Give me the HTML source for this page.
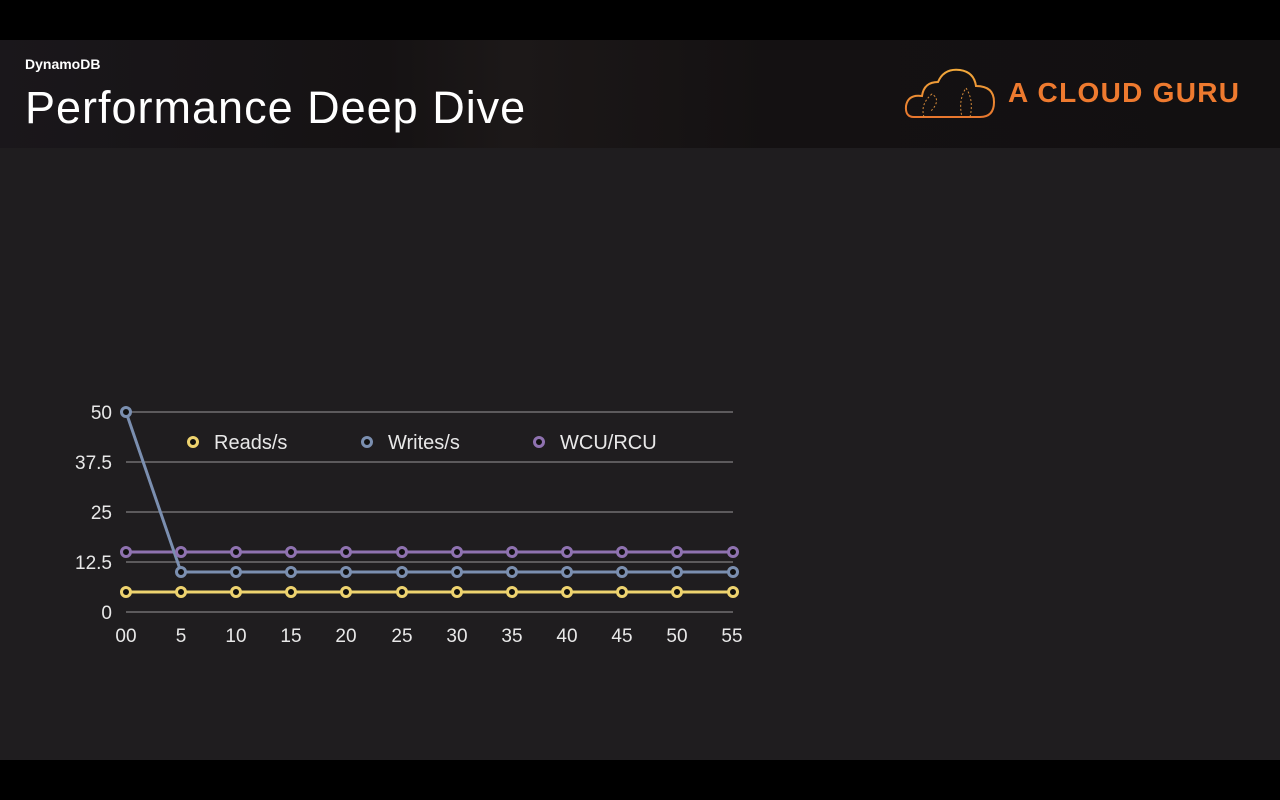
<!DOCTYPE html>
<html><head><style>
body{margin:0;width:1280px;height:800px;background:#000;overflow:hidden;font-family:"Liberation Sans",sans-serif;position:relative}
#hdr{position:absolute;left:0;top:40px;width:1280px;height:108px;background:linear-gradient(90deg,#1a171b 0%,#151213 30%,#1c1818 40%,#141112 60%,#121011 100%)}
#main{position:absolute;left:0;top:148px;width:1280px;height:612px;background:#1f1d1f}
</style></head><body>
<div id="hdr">
<div style="position:absolute;left:25px;top:16px;color:#fff;font-weight:bold;font-size:14px">DynamoDB</div>
<div style="position:absolute;left:25px;top:42px;color:#fff;font-size:45px;letter-spacing:1px">Performance Deep Dive</div>
<svg style="position:absolute;left:900px;top:20px" width="100" height="66">
<defs><linearGradient id="g" x1="0" y1="0" x2="0" y2="1"><stop offset="0" stop-color="#f2a93b"/><stop offset="1" stop-color="#e8772e"/></linearGradient></defs>
<path d="M14 57 Q5 57 6 46 Q8 34 22 36 Q24 22 38 22 Q44 8 60 10 Q74 12 76 26 Q94 26 94 42 Q94 57 80 57 Z" fill="none" stroke="url(#g)" stroke-width="2"/>
<path d="M24 57 Q20 44 32 34 Q42 40 30 52 M70 57 Q74 40 66 28 Q58 40 62 57" fill="none" stroke="#d58a3a" stroke-width="1" stroke-dasharray="2 2"/>
</svg>
<div style="position:absolute;left:1008px;top:37px;color:#ee7a2f;font-weight:bold;font-size:28px;letter-spacing:1.3px">A CLOUD GURU</div>
</div>
<div id="main"></div>
<svg style="position:absolute;left:0;top:0" width="1280" height="800" font-family="Liberation Sans,sans-serif">
<g stroke="#9a989a" stroke-width="1">
<line x1="126" y1="412" x2="733" y2="412"/><line x1="126" y1="462" x2="733" y2="462"/><line x1="126" y1="512" x2="733" y2="512"/><line x1="126" y1="562" x2="733" y2="562"/><line x1="126" y1="612" x2="733" y2="612"/>
</g>
<g fill="#e8e8e8" font-size="19" text-anchor="end">
<text x="112" y="419">50</text><text x="112" y="469">37.5</text><text x="112" y="519">25</text><text x="112" y="569">12.5</text><text x="112" y="619">0</text>
</g>
<g fill="#e8e8e8" font-size="19" text-anchor="middle">
<text x="126" y="642">00</text><text x="181" y="642">5</text><text x="236" y="642">10</text><text x="291" y="642">15</text><text x="346" y="642">20</text><text x="402" y="642">25</text><text x="457" y="642">30</text><text x="512" y="642">35</text><text x="567" y="642">40</text><text x="622" y="642">45</text><text x="677" y="642">50</text><text x="732" y="642">55</text>
</g>
<g stroke-width="3" fill="none">
<polyline stroke="#8f72b0" points="126,552 733,552"/>
<polyline stroke="#7b8fb0" points="126,412 181,572 733,572"/>
<polyline stroke="#eed36f" points="126,592 733,592"/>
</g>
<g stroke-width="3" fill="#111">
<g stroke="#8f72b0"><circle cx="126" cy="552" r="4.5"/><circle cx="181" cy="552" r="4.5"/><circle cx="236" cy="552" r="4.5"/><circle cx="291" cy="552" r="4.5"/><circle cx="346" cy="552" r="4.5"/><circle cx="402" cy="552" r="4.5"/><circle cx="457" cy="552" r="4.5"/><circle cx="512" cy="552" r="4.5"/><circle cx="567" cy="552" r="4.5"/><circle cx="622" cy="552" r="4.5"/><circle cx="677" cy="552" r="4.5"/><circle cx="733" cy="552" r="4.5"/><circle cx="539" cy="442" r="4.5"/></g>
<g stroke="#7b8fb0"><circle cx="126" cy="412" r="4.5"/><circle cx="181" cy="572" r="4.5"/><circle cx="236" cy="572" r="4.5"/><circle cx="291" cy="572" r="4.5"/><circle cx="346" cy="572" r="4.5"/><circle cx="402" cy="572" r="4.5"/><circle cx="457" cy="572" r="4.5"/><circle cx="512" cy="572" r="4.5"/><circle cx="567" cy="572" r="4.5"/><circle cx="622" cy="572" r="4.5"/><circle cx="677" cy="572" r="4.5"/><circle cx="733" cy="572" r="4.5"/><circle cx="367" cy="442" r="4.5"/></g>
<g stroke="#eed36f"><circle cx="126" cy="592" r="4.5"/><circle cx="181" cy="592" r="4.5"/><circle cx="236" cy="592" r="4.5"/><circle cx="291" cy="592" r="4.5"/><circle cx="346" cy="592" r="4.5"/><circle cx="402" cy="592" r="4.5"/><circle cx="457" cy="592" r="4.5"/><circle cx="512" cy="592" r="4.5"/><circle cx="567" cy="592" r="4.5"/><circle cx="622" cy="592" r="4.5"/><circle cx="677" cy="592" r="4.5"/><circle cx="733" cy="592" r="4.5"/><circle cx="193" cy="442" r="4.5"/></g>
</g>
<g fill="#e8e8e8" font-size="20">
<text x="214" y="449">Reads/s</text><text x="388" y="449">Writes/s</text><text x="560" y="449">WCU/RCU</text>
</g>
</svg>
</body></html>
